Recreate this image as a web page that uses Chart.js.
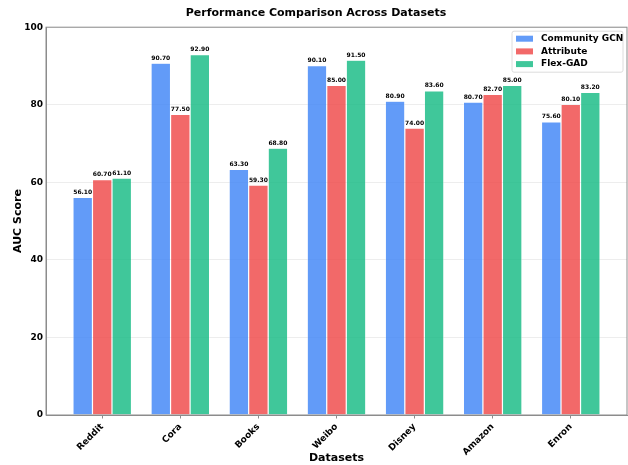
<!DOCTYPE html>
<html>
<head>
<meta charset="utf-8">
<script src="https://cdn.jsdelivr.net/npm/chart.js@4"></script>
<style>
  html, body { margin: 0; padding: 0; background: #fff; }
  #wrap { width: 628px; height: 465px; }
</style>
</head>
<body>
<div id="wrap"><canvas id="auc-chart"></canvas></div>
<script>
  const datasetNames = ['Reddit', 'Cora', 'Books', 'Weibo', 'Disney', 'Amazon', 'Enron'];
  const communityGcn = [56.1, 90.7, 63.3, 90.1, 80.9, 80.7, 75.6];
  const attribute = [60.7, 77.5, 59.3, 85.0, 74.0, 82.7, 80.1];
  const flexGad = [61.1, 92.9, 68.8, 91.5, 83.6, 85.0, 83.2];
  const yTicks = [0, 20, 40, 60, 80, 100];

  const FONT = "'DejaVu Sans', sans-serif";
  const toPoints = arr => arr.map((v, i) => ({ x: i, y: v }));

  // value labels on top of each bar
  const valueLabels = {
    id: 'valueLabels',
    afterDatasetsDraw(chart) {
      const c = chart.ctx;
      c.save();
      c.font = 'bold 6px ' + FONT;
      c.fillStyle = '#000';
      c.textAlign = 'center';
      c.textBaseline = 'bottom';
      chart.data.datasets.forEach((ds, i) => {
        chart.getDatasetMeta(i).data.forEach((bar, j) => {
          c.fillText(ds.data[j].y.toFixed(2), bar.x, bar.y - 2);
        });
      });
      c.restore();
    },
  };

  // matplotlib-like frame and boxed legend inside the plot
  const frameAndLegend = {
    id: 'frameAndLegend',
    afterDraw(chart) {
      const c = chart.ctx;
      const a = chart.chartArea;
      c.save();
      c.strokeStyle = '#8c8c8c';
      c.lineWidth = 1;
      c.strokeRect(a.left, a.top, a.right - a.left, a.bottom - a.top);

      const bx = a.right - 115, by = a.top + 4, bw = 111, bh = 41;
      c.fillStyle = 'rgba(255,255,255,0.85)';
      c.strokeStyle = '#dcdcdc';
      c.beginPath();
      c.roundRect(bx, by, bw, bh, 2);
      c.fill();
      c.stroke();

      c.font = 'bold 9px ' + FONT;
      c.textBaseline = 'middle';
      c.textAlign = 'left';
      chart.data.datasets.forEach((ds, i) => {
        const y = by + 7.5 + i * 12.7;
        c.fillStyle = ds.backgroundColor;
        c.fillRect(bx + 4, y - 3, 17, 6);
        c.fillStyle = '#000';
        c.fillText(ds.label, bx + 29, y);
      });
      c.restore();
    },
  };

  const ctx = document.getElementById('auc-chart').getContext('2d');

  const aucChart = new Chart(ctx, {
    type: 'bar',
    data: {
      datasets: [
        {
          label: 'Community GCN',
          data: toPoints(communityGcn),
          backgroundColor: 'rgba(59,130,246,0.8)',
          borderColor: 'rgba(255,255,255,0.5)',
          borderWidth: 0.6,
        },
        {
          label: 'Attribute',
          data: toPoints(attribute),
          backgroundColor: 'rgba(239,68,68,0.8)',
          borderColor: 'rgba(255,255,255,0.5)',
          borderWidth: 0.6,
        },
        {
          label: 'Flex-GAD',
          data: toPoints(flexGad),
          backgroundColor: 'rgba(16,185,129,0.8)',
          borderColor: 'rgba(255,255,255,0.5)',
          borderWidth: 0.6,
        },
      ],
    },
    options: {
      responsive: true,
      maintainAspectRatio: false,
      animation: false,
      categoryPercentage: 0.75,
      barPercentage: 1.0,
      layout: { padding: { top: 7, right: 1, left: 5, bottom: 0 } },
      scales: {
        x: {
          type: 'linear',
          min: -0.72,
          max: 6.72,
          offset: false,
          afterBuildTicks(scale) {
            scale.ticks = datasetNames.map((_, i) => ({ value: i }));
          },
          afterFit(scale) {
            scale.height = 50;
          },
          ticks: {
            autoSkip: false,
            minRotation: 45,
            maxRotation: 45,
            padding: 3,
            color: '#000',
            font: { family: FONT, size: 9, weight: 'bold' },
            callback: v => datasetNames[v],
          },
          grid: { drawOnChartArea: false, offset: false, color: '#8c8c8c', tickLength: 3.5 },
          border: { color: '#8c8c8c' },
          title: {
            display: true,
            text: 'Datasets',
            color: '#000',
            font: { family: FONT, size: 11, weight: 'bold' },
            padding: { top: 0, bottom: 0 },
          },
        },
        y: {
          min: 0,
          max: 100,
          afterBuildTicks(scale) {
            scale.ticks = yTicks.map(v => ({ value: v }));
          },
          afterFit(scale) {
            scale.width = 41;
          },
          ticks: {
            padding: 3,
            color: '#000',
            font: { family: FONT, size: 9, weight: 'bold' },
          },
          grid: { color: 'rgba(0,0,0,0.07)', drawTicks: false },
          border: { color: '#8c8c8c' },
          title: {
            display: true,
            text: 'AUC Score',
            color: '#000',
            font: { family: FONT, size: 11, weight: 'bold' },
            padding: { top: 7, bottom: 0 },
          },
        },
      },
      plugins: {
        legend: { display: false },
        tooltip: { enabled: false },
        title: {
          display: true,
          text: 'Performance Comparison Across Datasets',
          color: '#000',
          font: { family: FONT, size: 11, weight: 'bold' },
          padding: { top: 0, bottom: 7 },
        },
      },
    },
    plugins: [valueLabels, frameAndLegend],
  });
</script>
</body>
</html>
